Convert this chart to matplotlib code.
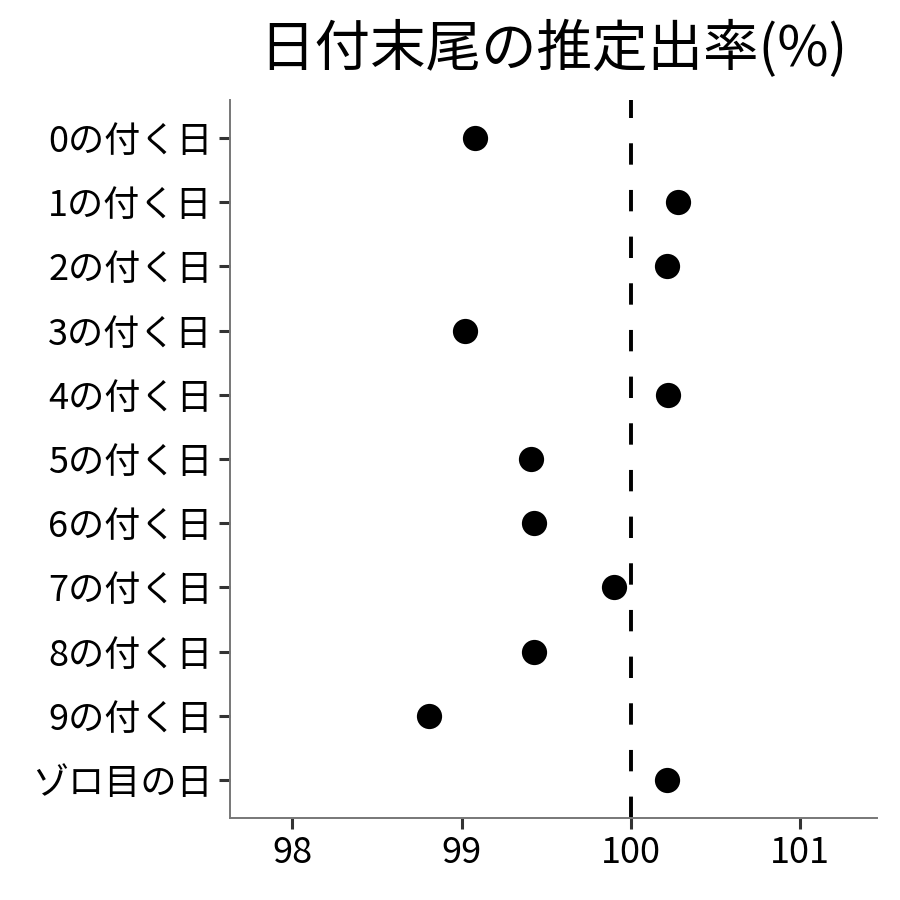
import matplotlib
matplotlib.use("Agg")
import matplotlib.pyplot as plt

plt.rcParams['font.family'] = ['Noto Sans CJK JP', 'DejaVu Sans']

labels = ['0の付く日', '1の付く日', '2の付く日', '3の付く日', '4の付く日',
          '5の付く日', '6の付く日', '7の付く日', '8の付く日', '9の付く日',
          'ゾロ目の日']
rates = [99.08, 100.28, 100.21, 99.02, 100.22, 99.41, 99.43, 99.90, 99.43, 98.81, 100.21]
xticks = [98, 99, 100, 101]

fig, ax = plt.subplots(figsize=(9, 9), dpi=100)
fig.subplots_adjust(left=0.255, right=0.974, top=0.889, bottom=0.091)

ypos = list(range(len(labels)))
ax.axvline(100, color='black', lw=2.8, ls=(0, (5.5, 6.5)), zorder=1)
ax.scatter(rates, ypos, s=330, color='black', zorder=3, linewidths=0)

ax.set_xlim(97.63, 101.45)
ax.set_ylim(len(labels) - 0.41, -0.59)
ax.set_yticks(ypos)
ax.set_yticklabels(labels)
ax.set_xticks(xticks)
ax.set_xticklabels([str(t) for t in xticks])

for s in ['top', 'right']:
    ax.spines[s].set_visible(False)
for s in ['left', 'bottom']:
    ax.spines[s].set_color('#777777')
    ax.spines[s].set_linewidth(1.4)
ax.tick_params(axis='both', length=8, width=2.2, color='#333333',
               labelsize=26, labelcolor='black', pad=4)

ax.set_title('日付末尾の推定出率(%)', fontsize=40, pad=24)

fig.savefig('out.png', dpi=100)
